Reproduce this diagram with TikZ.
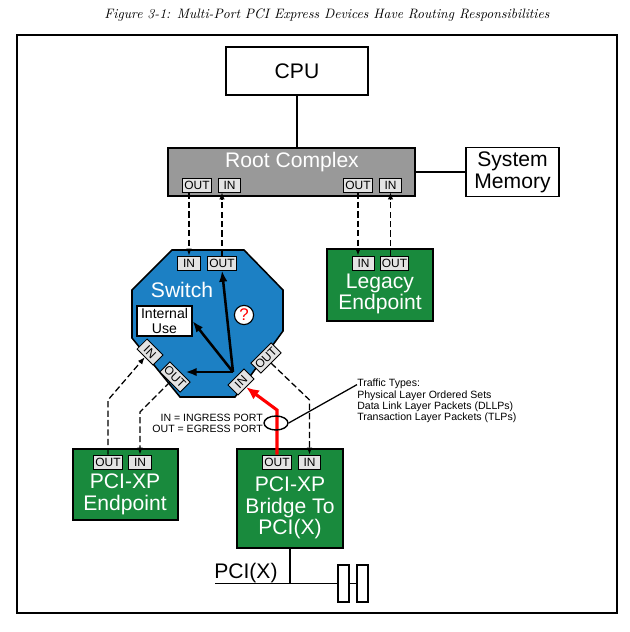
\documentclass[tikz,border=0pt]{standalone}
\usepackage{fontspec}
\newfontfamily\arial{Liberation Sans}
\usetikzlibrary{shapes.geometric, arrows.meta}
\definecolor{switchblue}{rgb}{0.11, 0.50, 0.77}
\definecolor{devgreen}{rgb}{0.10, 0.54, 0.24}
\definecolor{rootgray}{rgb}{0.60, 0.60, 0.60}
\definecolor{portgray}{rgb}{0.89, 0.89, 0.89}
\tikzstyle{box} = [draw,line width=1.1pt,inner sep=0pt]
\tikzstyle{dev} = [box,fill=devgreen,minimum width=2.65cm]
\tikzstyle{port} = [draw,fill=portgray,line width=0.6pt,inner sep=1.2pt,minimum width=16pt,minimum height=10pt,font=\arial\fontsize{8.5}{9}\selectfont]
\tikzstyle{big} = [font=\arial\fontsize{15}{15.5}\selectfont,align=center,inner sep=0pt]
\tikzstyle{small} = [font=\arial\fontsize{7.5}{8}\selectfont,inner sep=0pt]
\tikzstyle{dline} = [line width=0.9pt,dash pattern=on 4.5pt off 2.2pt,-{Latex[length=5pt,width=4pt]}]
\tikzstyle{fatarrow} = [line width=1.8pt,-{Latex[length=8pt,width=6pt]}]
\tikzstyle{redarrow} = [line width=2.2pt,red,-{Latex[length=9pt,width=8pt]}]

\begin{document}
\begin{tikzpicture}[x=0.025cm,y=-0.025cm]
	\useasboundingbox (0,0) rectangle (630,632);
	\node[font=\itshape\fontsize{9.7}{12}\selectfont](cap) at (327,15){Figure 3-1: Multi-Port PCI Express Devices Have Routing Responsibilities};
	\draw[line width=1.1pt](17,35) rectangle (617,613);
	
	% cpu, root complex and memory
	\node[box,big,minimum width=3.55cm,minimum height=1.2cm](cpu) at (297,71){CPU};
	\node[box,fill=rootgray,minimum width=6.175cm,minimum height=1.2cm](rc) at (291.5,172){};
	\node[big,text=white](rcl) at (292,162){Root Complex};
	\node[box,big,minimum width=2.325cm,minimum height=1.225cm](mem) at (512.5,172){System\\Memory};
	\node[port](rOUTa) at (197,185){OUT};
	\node[port](rINa) at (229.5,185){IN};
	\node[port](rOUTb) at (358,185){OUT};
	\node[port](rINb) at (390.5,185){IN};
	\draw[line width=1.1pt](cpu.south)--(cpu.south |- rc.north);
	\draw[line width=1.1pt](rc.east)--(mem.west);
	
	% switch
	\draw[line width=1.1pt,fill=switchblue](172,250)--(244,250)--(283,290)--(283,331)--(235,397)--(180,397)--(132,338)--(132,290)--cycle;
	\node[big,text=white](swl) at (182,290){Switch};
	\node[port](sIN) at (189,263){IN};
	\node[port](sOUT) at (222,263){OUT};
	\node[port,rotate=-45](llIN) at (150,352){IN};
	\node[port,rotate=-45](llOUT) at (175,377){OUT};
	\node[port,rotate=45](lrIN) at (241,382){IN};
	\node[port,rotate=45](lrOUT) at (266,358){OUT};
	\node[draw,fill=white,line width=0.8pt,minimum width=1.375cm,minimum height=0.75cm,align=center,inner sep=0pt,font=\arial\fontsize{10}{10.5}\selectfont](iu) at (164.5,321){Internal\\Use};
	\node[circle,draw,fill=white,line width=0.8pt,minimum size=0.48cm,inner sep=0pt,text=red,font=\arial\fontsize{12}{12}\selectfont](q) at (244,315){?};
	\coordinate(hub) at (233,372);
	\draw[fatarrow](hub)--(sOUT.south);
	\draw[fatarrow](hub)--(iu.east);
	\draw[fatarrow](hub)--(hub -| llOUT.east);
	\draw[dline](sIN.north |- rOUTa.south)--(sIN.north);
	\draw[dline](sOUT.north)--(sOUT.north |- rINa.south);
	
	% legacy endpoint
	\node[dev,minimum height=1.8cm](leg) at (380,285){};
	\node[big,text=white](legl) at (380,294){Legacy\\Endpoint};
	\node[port](lIN) at (363.5,263){IN};
	\node[port](lOUT) at (394.5,263){OUT};
	\draw[dline](rOUTb.south)--(rOUTb.south |- lIN.north);
	\draw[dline](rINb.south |- lOUT.north)--(rINb.south);
	
	% pci-xp endpoint
	\node[dev,minimum width=2.625cm,minimum height=1.775cm](ep) at (125.5,484.5){};
	\node[big,text=white](epl) at (125,494){PCI-XP\\Endpoint};
	\node[port](eOUT) at (108,462){OUT};
	\node[port](eIN) at (140,462){IN};
	\draw[dline](eOUT.north)--(108,400)--(llIN.south);
	\draw[dline](llOUT.south)--(140,412)--(eIN.north);
	
	% bridge
	\node[dev,minimum height=2.475cm](br) at (290,498.5){};
	\node[big,text=white](brl) at (290,508){PCI-XP\\Bridge To\\PCI(X)};
	\node[port](bOUT) at (277,462){OUT};
	\node[port](bIN) at (309.5,462){IN};
	\draw[dline](lrOUT.south)--(309.5,400)--(bIN.north);
	\draw[redarrow](bOUT.north)--(277,410)--(lrIN.south);
	\node[ellipse,draw,line width=1pt,minimum width=0.6cm,minimum height=0.35cm,inner sep=0pt](ell) at (276,423){};
	\node[small,anchor=north west,align=left](tt) at (357,379){Traffic Types:\\Physical Layer Ordered Sets\\Data Link Layer Packets (DLLPs)\\Transaction Layer Packets (TLPs)};
	\draw[line width=0.9pt](ell.east)--([yshift=-4pt]tt.north west);
	\node[small,anchor=east,align=right](io) at (263,423){IN = INGRESS PORT\\OUT = EGRESS PORT};
	
	% pci(x) bus
	\node[draw,line width=1pt,minimum width=0.275cm,minimum height=0.925cm,inner sep=0pt](slotA) at (343.5,583.5){};
	\node[draw,line width=1pt,minimum width=0.275cm,minimum height=0.925cm,inner sep=0pt](slotB) at (362.5,583.5){};
	\coordinate(busL) at (215,583.5);
	\draw[line width=1.1pt](busL)--(slotA.west);
	\draw[line width=1.1pt](slotA.east)--(slotB.west);
	\draw[line width=1.1pt](br.south)--(br.south |- busL);
	\node[big,anchor=base west](pcil) at (214,578){PCI(X)};
\end{tikzpicture}
\end{document}
